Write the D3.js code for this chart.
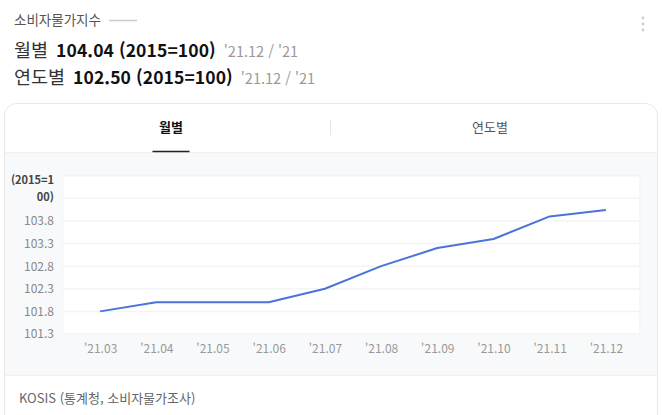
<!DOCTYPE html>
<html lang="ko">
<head>
<meta charset="utf-8">
<script src="https://cdn.jsdelivr.net/npm/d3@7"></script>
<style>
  html, body { margin: 0; padding: 0; background: #fff; }
  body { width: 662px; height: 415px; overflow: hidden; font-family: "Noto Sans CJK KR", "Noto Sans", sans-serif; }
  svg text { font-family: "Noto Sans CJK KR", "Noto Sans", sans-serif; }
</style>
</head>
<body>
<svg id="chart" width="662" height="415"></svg>
<script>
// Data
const months = ["'21.03", "'21.04", "'21.05", "'21.06", "'21.07", "'21.08", "'21.09", "'21.10", "'21.11", "'21.12"];
const cpiValues = [101.8, 102.0, 102.0, 102.0, 102.3, 102.8, 103.2, 103.4, 103.9, 104.04];
const yTicks = [101.3, 101.8, 102.3, 102.8, 103.3, 103.8, 104.3, 104.8];
const yLabelTicks = [101.3, 101.8, 102.3, 102.8, 103.3, 103.8];
const tabLabels = ['월별', '연도별'];
const unitLabel = ['(2015=1', '00)'];
const title = '소비자물가지수';
const summaryRows = [
  { label: '월별', value: '104.04 (2015=100)', period: "'21.12 / '21" },
  { label: '연도별', value: '102.50 (2015=100)', period: "'21.12 / '21" }
];
const source = 'KOSIS (통계청, 소비자물가조사)';

const svg = d3.select('#chart');

// Header
const head = svg.append('text')
  .attr('x', 14).attr('y', 25)
  .style('font-size', '13.5px').style('fill', '#555')
  .text(title);
const titleW = head.node().getComputedTextLength();
svg.append('line')
  .attr('x1', 14 + titleW + 8).attr('x2', 14 + titleW + 36)
  .attr('y1', 20.5).attr('y2', 20.5)
  .attr('stroke', '#ccc').attr('stroke-width', 1.5);

// kebab dots
[18, 24, 30].forEach(cy => {
  svg.append('circle').attr('cx', 643).attr('cy', cy).attr('r', 1.4).attr('fill', '#ccc');
});

summaryRows.forEach((r, i) => {
  const yy = 57 + i * 27;
  let cx = 14;
  const a = svg.append('text').attr('x', cx).attr('y', yy)
    .style('font-size', '18.5px').style('fill', '#333').text(r.label);
  cx += a.node().getComputedTextLength() + 8;
  const b = svg.append('text').attr('x', cx).attr('y', yy)
    .style('font-size', '17.5px').style('font-weight', '700').style('fill', '#111')
    .style('letter-spacing', '0.1px').text(r.value);
  cx += b.node().getComputedTextLength() + 8;
  svg.append('text').attr('x', cx).attr('y', yy)
    .style('font-size', '14.5px').style('fill', '#999').text(r.period);
});

// Card
const card = { x: 4.5, y: 103.5, w: 653, h: 340 };
svg.append('rect')
  .attr('x', card.x).attr('y', card.y).attr('width', card.w).attr('height', card.h)
  .attr('rx', 12).attr('fill', '#fff').attr('stroke', '#e9e9e9');

// Chart background band
svg.append('rect')
  .attr('x', card.x + 0.5).attr('y', 152.5).attr('width', card.w - 1).attr('height', 222.5)
  .attr('fill', '#f8f9fb');
svg.append('line')
  .attr('x1', card.x).attr('x2', card.x + card.w).attr('y1', 152.5).attr('y2', 152.5)
  .attr('stroke', '#eef0f2');
svg.append('line')
  .attr('x1', card.x).attr('x2', card.x + card.w).attr('y1', 375.5).attr('y2', 375.5)
  .attr('stroke', '#eef0f2');

// Tabs
const tabX = d3.scaleBand().domain(tabLabels).range([11.5, 649.5]);
svg.selectAll('.tab')
  .data(tabLabels)
  .enter()
  .append('text')
  .attr('class', 'tab')
  .attr('x', d => tabX(d) + tabX.bandwidth() / 2)
  .attr('y', 132)
  .attr('text-anchor', 'middle')
  .style('font-size', '13px')
  .style('font-weight', (d, i) => i === 0 ? '700' : '400')
  .style('fill', (d, i) => i === 0 ? '#111' : '#555')
  .text(d => d);
svg.append('line')
  .attr('x1', 330.5).attr('x2', 330.5).attr('y1', 120).attr('y2', 135)
  .attr('stroke', '#e6e6e6');
svg.append('line')
  .attr('x1', tabX(tabLabels[0]) + tabX.bandwidth() / 2 - 18.5)
  .attr('x2', tabX(tabLabels[0]) + tabX.bandwidth() / 2 + 18.5)
  .attr('y1', 151.5).attr('y2', 151.5)
  .attr('stroke', '#222').attr('stroke-width', 1.5);

// Plot
const plot = { left: 63, right: 640, top: 175.7, bottom: 334 };
svg.append('rect')
  .attr('x', plot.left).attr('y', plot.top)
  .attr('width', plot.right - plot.left).attr('height', plot.bottom - plot.top)
  .attr('fill', '#fff');

const x = d3.scalePoint()
  .domain(months)
  .range([plot.left + 2, plot.right + 1])
  .padding(0.625);

const y = d3.scaleLinear()
  .domain([101.3, 104.8])
  .range([plot.bottom, plot.top]);

// Grid
svg.append('g')
  .selectAll('line')
  .data(yTicks)
  .enter()
  .append('line')
  .attr('x1', plot.left).attr('x2', plot.right)
  .attr('y1', d => y(d)).attr('y2', d => y(d))
  .attr('stroke', '#f3f4f6').attr('stroke-width', 1.5);
svg.append('line')
  .attr('x1', plot.right).attr('x2', plot.right)
  .attr('y1', plot.top).attr('y2', plot.bottom)
  .attr('stroke', '#f3f4f6').attr('stroke-width', 1.5);
svg.append('line')
  .attr('x1', plot.left).attr('x2', plot.left)
  .attr('y1', plot.top).attr('y2', plot.bottom)
  .attr('stroke', '#f3f4f6').attr('stroke-width', 1);

// Y axis labels
svg.append('g')
  .attr('transform', `translate(${plot.left - 9},0)`)
  .call(d3.axisLeft(y).tickValues(yLabelTicks).tickFormat(d3.format('.1f')).tickSize(0).tickPadding(0))
  .call(g => g.select('.domain').remove())
  .call(g => g.selectAll('text')
    .style('font-family', '"Noto Sans CJK KR", sans-serif')
    .style('font-size', '12px').style('fill', '#888'));

svg.append('g')
  .selectAll('text')
  .data(unitLabel)
  .enter()
  .append('text')
  .attr('x', plot.left - 9)
  .attr('y', (d, i) => y(yTicks[yTicks.length - 1]) + 8.5 + i * 17)
  .attr('text-anchor', 'end')
  .style('font-size', '11px').style('font-weight', '700').style('fill', '#444')
  .text(d => d);

// X axis labels
svg.append('g')
  .attr('transform', `translate(0,${plot.bottom + 10})`)
  .call(d3.axisBottom(x).tickSize(0).tickPadding(0))
  .call(g => g.select('.domain').remove())
  .call(g => g.selectAll('text')
    .style('font-family', '"Noto Sans CJK KR", sans-serif')
    .style('font-size', '12px').style('fill', '#999'));

// Line
const line = d3.line()
  .x((d, i) => x(months[i]))
  .y(d => y(d));
svg.append('path')
  .datum(cpiValues)
  .attr('d', line)
  .attr('fill', 'none')
  .attr('stroke', '#4c73d9')
  .attr('stroke-width', 2)
  .attr('stroke-linejoin', 'round');

// Source
svg.append('text')
  .attr('x', 19).attr('y', 403)
  .style('font-size', '13px').style('fill', '#666')
  .text(source);
</script>
</body>
</html>
